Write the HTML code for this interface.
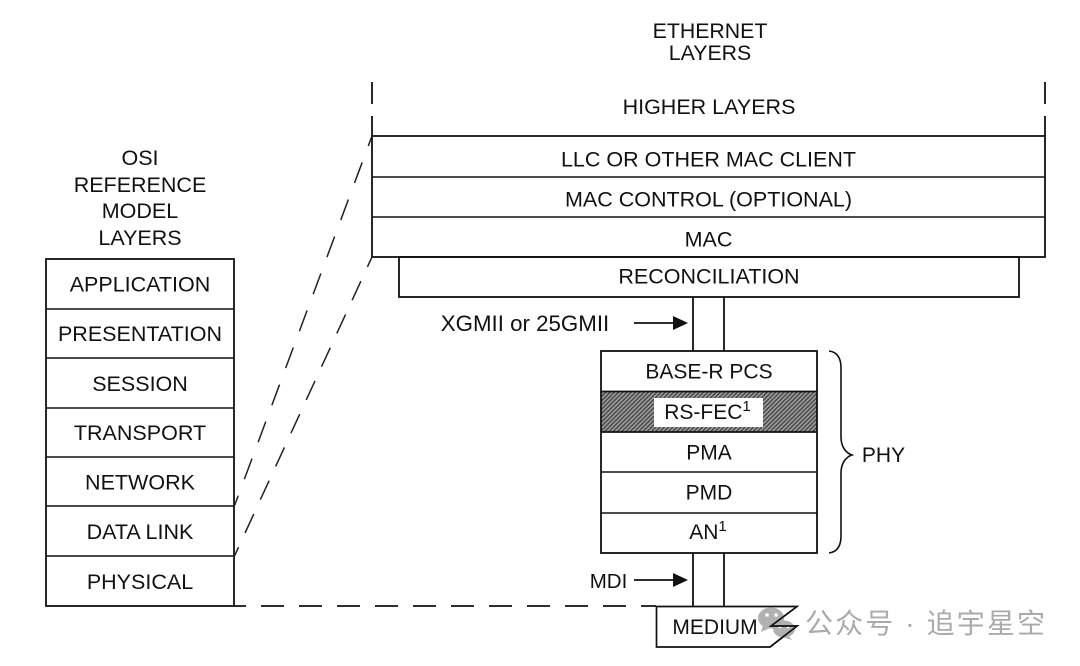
<!DOCTYPE html>
<html>
<head>
<meta charset="utf-8">
<style>
html,body{margin:0;padding:0;background:#fff;}
svg{display:block;}
text{font-family:"Liberation Sans",Arial,sans-serif;font-size:21.5px;fill:#111;text-anchor:middle;}
text.s{font-size:21px;}
.l{stroke:#111;stroke-width:1.8;fill:none;}
.t{stroke:#111;stroke-width:1.6;fill:none;}
.d{stroke:#222;stroke-width:1.5;fill:none;}
</style>
</head>
<body>
<svg width="1080" height="666" viewBox="0 0 1080 666" xmlns="http://www.w3.org/2000/svg">
<defs>
<pattern id="h" width="3" height="3" patternUnits="userSpaceOnUse" patternTransform="rotate(-45)">
<rect width="3" height="3" fill="#a0a0a0"/>
<rect width="3" height="1.500" fill="#484848"/>
</pattern>
</defs>
<rect width="1080" height="666" fill="#fff"/>

<!-- Ethernet header -->
<text x="710" y="38" style="font-size:21.3px">ETHERNET</text>
<text x="710" y="60" style="font-size:21.3px">LAYERS</text>
<text x="709" y="114">HIGHER LAYERS</text>

<!-- Ethernet dashed verticals -->
<path class="l" d="M372 82V104M372 116V136M1045 82V104M1045 116V136"/>

<!-- Ethernet stack -->
<rect class="l" x="372" y="136" width="673" height="121"/>
<path class="t" d="M372 177H1045M372 217H1045"/>
<rect class="l" x="399" y="257" width="620" height="40"/>
<text x="708.500" y="166.500">LLC OR OTHER MAC CLIENT</text>
<text x="708.500" y="206.500">MAC CONTROL (OPTIONAL)</text>
<text x="708.500" y="246.500">MAC</text>
<text x="709" y="283.500">RECONCILIATION</text>

<!-- Top pipe & XGMII -->
<path class="l" d="M693 297V351M724 297V351"/>
<text x="525" y="331" style="font-size:22.300px">XGMII or 25GMII</text>
<path class="l" d="M634 323H675"/>
<path d="M673 316L688 323L673 330Z" fill="#111"/>

<!-- PHY stack -->
<rect x="601" y="391" width="216" height="41" fill="url(#h)"/>
<rect x="654" y="398" width="109" height="29" fill="#fff"/>
<rect class="l" x="601" y="351" width="216" height="202"/>
<path class="l" d="M601 391.500H817M601 432H817"/>
<path class="t" d="M601 472H817M601 513H817"/>
<text class="s" x="709" y="378.500">BASE-R PCS</text>
<text class="s" x="707.500" y="419">RS-FEC<tspan font-size="15" dy="-8">1</tspan></text>
<text class="s" x="709" y="459.500">PMA</text>
<text class="s" x="709" y="499.500">PMD</text>
<text class="s" x="708" y="539">AN<tspan font-size="15" dy="-8">1</tspan></text>

<!-- Brace -->
<path class="t" stroke-width="1.300" d="M829 351C837 352 841 358 841 368V437C841 447 846 453 852 455C846 457 841 463 841 473V536C841 546 837 552 829 553"/>
<text class="s" x="883.500" y="462">PHY</text>

<!-- Bottom pipe & MDI -->
<path class="l" d="M693 553V606M724 553V606"/>
<text x="608.500" y="588" style="font-size:20.500px">MDI</text>
<path class="l" d="M634 580H675"/>
<path d="M673 573L688 580L673 587Z" fill="#111"/>

<!-- Medium -->
<path fill="#fff" stroke="#111" stroke-width="1.700" d="M656.500 606.500H797L771 626H797L770 647H656.500Z"/>
<text class="s" x="715" y="634">MEDIUM</text>

<!-- OSI -->
<text x="140" y="165">OSI</text>
<text x="140" y="192">REFERENCE</text>
<text x="140" y="218">MODEL</text>
<text x="140" y="245">LAYERS</text>
<rect class="l" x="46" y="259" width="188" height="347"/>
<path class="t" d="M46 309H234M46 358H234M46 408H234M46 457H234M46 506H234M46 556H234"/>
<text x="140" y="291.500">APPLICATION</text>
<text x="140" y="341">PRESENTATION</text>
<text x="140" y="391">SESSION</text>
<text x="140" y="440">TRANSPORT</text>
<text x="140" y="489.500">NETWORK</text>
<text x="140" y="539">DATA LINK</text>
<text x="140" y="589">PHYSICAL</text>

<!-- Dashed projection -->
<path class="d" stroke-dasharray="22 17.500" stroke-dashoffset="11.300" d="M372 136L234 507"/>
<path class="d" stroke-dasharray="21 15.600" stroke-dashoffset="10" d="M372 257L234 557"/>
<path class="l" stroke-dasharray="23 15" stroke-dashoffset="11" d="M234 606H656"/>

<!-- Watermark -->
<g fill="#a9a9a9" opacity="0.9">
<ellipse cx="771" cy="618" rx="13" ry="10.500"/>
<path d="M763 625L761 632L770 628Z"/>
<ellipse cx="784" cy="629" rx="11" ry="8.500"/>
<path d="M788 635L792 640L782 637Z"/>
</g>
<g fill="#fff">
<circle cx="767" cy="615" r="1.800"/><circle cx="776" cy="615" r="1.800"/>
<circle cx="780" cy="627" r="1.400"/><circle cx="788" cy="627" r="1.400"/>
</g>
<path fill="none" stroke="#111" stroke-width="1.700" d="M797 606.500L771 626H797L770 647"/>
<text x="925" y="633" style="font-family:'Liberation Sans','Noto Sans CJK SC',sans-serif;font-size:28px;fill:#aaaaaa" textLength="240" lengthAdjust="spacing">公众号 · 追宇星空</text>
</svg>
</body>
</html>
